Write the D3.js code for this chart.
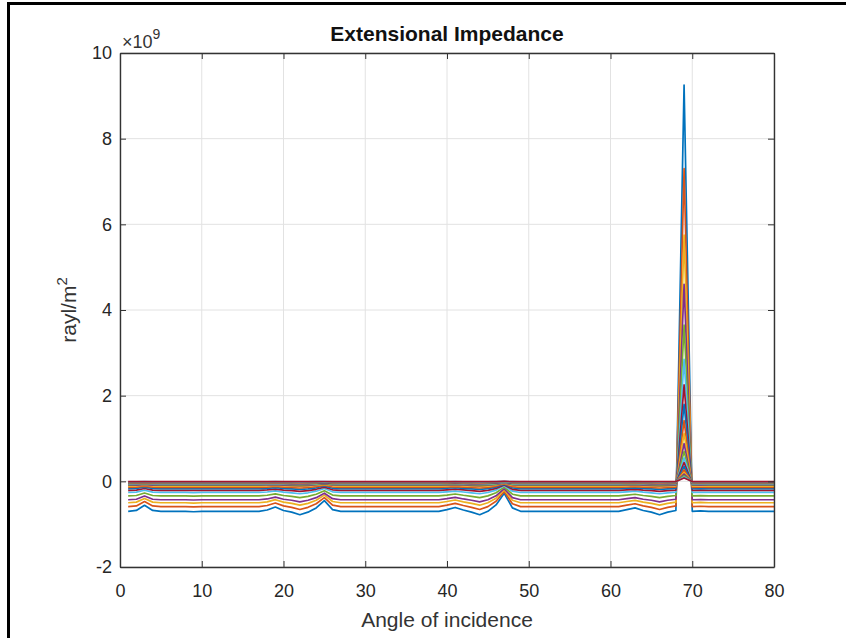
<!DOCTYPE html>
<html>
<head>
<meta charset="utf-8">
<script src="https://cdn.jsdelivr.net/npm/d3@7"></script>
<style>
	body { margin: 0; background: #fff; }
	svg { display: block; }
	text { font-family: 'Liberation Sans', Arial, sans-serif; fill: #262626; }
</style>
</head>
<body>
<div id="chart"></div>
<script>
// angle of incidence (deg)
var angles = [ 1, 2, 3, 4, 5, 6, 7, 8, 9, 10, 11, 12, 13, 14, 15, 16, 17, 18, 19, 20,
	21, 22, 23, 24, 25, 26, 27, 28, 29, 30, 31, 32, 33, 34, 35, 36, 37, 38, 39, 40,
	41, 42, 43, 44, 45, 46, 47, 48, 49, 50, 51, 52, 53, 54, 55, 56, 57, 58, 59, 60,
	61, 62, 63, 64, 65, 66, 67, 68, 69, 70, 71, 72, 73, 74, 75, 76, 77, 78, 79, 80 ];

// lowest (blue) curve, x 1e9 rayl/m^2
var firstCurve = [ -0.70, -0.68, -0.56, -0.68, -0.70, -0.70, -0.70, -0.70, -0.71, -0.70,
	-0.70, -0.70, -0.70, -0.70, -0.70, -0.70, -0.70, -0.67, -0.60, -0.68,
	-0.72, -0.78, -0.72, -0.62, -0.45, -0.66, -0.70, -0.70, -0.70, -0.70,
	-0.70, -0.70, -0.70, -0.70, -0.70, -0.70, -0.70, -0.70, -0.70, -0.66,
	-0.61, -0.67, -0.72, -0.78, -0.70, -0.55, -0.28, -0.62, -0.70, -0.70,
	-0.70, -0.70, -0.70, -0.70, -0.70, -0.70, -0.70, -0.70, -0.70, -0.70,
	-0.70, -0.66, -0.62, -0.68, -0.72, -0.78, -0.72, -0.68, 9.25, -0.70,
	-0.69, -0.70, -0.70, -0.70, -0.70, -0.70, -0.70, -0.70, -0.70, -0.70 ];

// each curve: height of the spike at 69 deg and its flat level elsewhere
var peakLevels = [ 9.25, 7.3, 5.75, 4.6, 3.65, 2.85, 2.25, 1.8, 1.42, 1.12, 0.88,
	0.7, 0.55, 0.44, 0.35, 0.27, 0.21, 0.17, 0.13, 0.1, 0.08 ];
var floorLevels = [ -0.70, -0.59, -0.50, -0.43, -0.34, -0.26, -0.21, -0.17, -0.14, -0.11, -0.09,
	-0.075, -0.06, -0.05, -0.04, -0.032, -0.025, -0.02, -0.015, -0.01, -0.006 ];

var spikeAngle = 69;
var xTicks = [ 0, 10, 20, 30, 40, 50, 60, 70, 80 ];
var yTicks = [ -2, 0, 2, 4, 6, 8, 10 ];
var colors = [ '#0072BD', '#D95319', '#EDB120', '#7E2F8E', '#77AC30', '#4DBEEE', '#A2142F' ];

var width = 846;
var height = 638;
var margin = { top: 53, right: 72, bottom: 71, left: 120 };

var svg = d3.select('#chart').append('svg').attr('width', width).attr('height', height);

// frame of the screenshot
svg.append('rect').attr('x', 8.5).attr('y', 3.5).attr('width', width).attr('height', height)
	.attr('fill', 'none').attr('stroke', '#000').attr('stroke-width', 3);

var x = d3.scaleLinear().domain([ 0, 80 ]).range([ margin.left, width - margin.right ]);
var y = d3.scaleLinear().domain([ -2, 10 ]).range([ height - margin.bottom, margin.top ]);

var series = peakLevels.map((p, k) =>
	angles.map((a, i) => ({
		a: a,
		v: a === spikeAngle ? p : firstCurve[i] * floorLevels[k] / floorLevels[0]
	}))
);

// grid
var grid = svg.append('g').attr('stroke', '#e2e2e2').attr('stroke-width', 1);
grid.selectAll('line.gx').data(xTicks).enter().append('line')
	.attr('x1', (d) => x(d)).attr('x2', (d) => x(d))
	.attr('y1', y(-2)).attr('y2', y(10));
grid.selectAll('line.gy').data(yTicks).enter().append('line')
	.attr('y1', (d) => y(d)).attr('y2', (d) => y(d))
	.attr('x1', x(0)).attr('x2', x(80));

svg.append('clipPath').attr('id', 'clip').append('rect')
	.attr('x', x(0)).attr('y', y(10)).attr('width', x(80) - x(0)).attr('height', y(-2) - y(10));

var line = d3.line().x((d) => x(d.a)).y((d) => y(d.v));

svg.append('g').attr('clip-path', 'url(#clip)')
	.selectAll('path').data(series).enter().append('path')
	.attr('d', line)
	.attr('fill', 'none')
	.attr('stroke', (d, k) => colors[k % colors.length])
	.attr('stroke-width', 1.7)
	.attr('stroke-linejoin', 'round');

// axes, ticks inside on all four sides
var tickLen = 6;
var axisStyle = (g) => g.call((g) => g.select('.domain').attr('stroke', '#333').attr('stroke-width', 1.4))
	.call((g) => g.selectAll('.tick line').attr('stroke', '#333'))
	.call((g) => g.selectAll('.tick text').style('font-size', '18px').attr('fill', '#333'));

svg.append('g').attr('transform', `translate(0,${y(-2)})`)
	.call(d3.axisBottom(x).tickValues(xTicks).tickSizeInner(-tickLen).tickSizeOuter(0).tickPadding(17).tickFormat(d3.format('d')))
	.call(axisStyle);
svg.append('g').attr('transform', `translate(0,${y(10)})`)
	.call(d3.axisTop(x).tickValues(xTicks).tickSizeInner(-tickLen).tickSizeOuter(0).tickFormat(''))
	.call(axisStyle);
svg.append('g').attr('transform', `translate(${x(0)},0)`)
	.call(d3.axisLeft(y).tickValues(yTicks).tickSizeInner(-tickLen).tickSizeOuter(0).tickPadding(8).tickFormat((d) => String(d)))
	.call(axisStyle);
svg.append('g').attr('transform', `translate(${x(80)},0)`)
	.call(d3.axisRight(y).tickValues(yTicks).tickSizeInner(-tickLen).tickSizeOuter(0).tickFormat(''))
	.call(axisStyle);

// exponent
var expo = svg.append('text').attr('x', x(0) + 2).attr('y', 48).style('font-size', '18px').style('fill', '#333');
expo.append('tspan').text('\u00d710');
expo.append('tspan').attr('dy', -9).style('font-size', '14px').text('9');

// title
svg.append('text').attr('x', (x(0) + x(80)) / 2).attr('y', 41)
	.attr('text-anchor', 'middle').style('font-size', '21px').style('font-weight', 'bold')
	.style('fill', '#111').text('Extensional Impedance');

// axis labels
svg.append('text').attr('x', (x(0) + x(80)) / 2).attr('y', 627)
	.attr('text-anchor', 'middle').style('font-size', '21px').style('fill', '#333').text('Angle of incidence');

var yl = svg.append('text').attr('transform', `translate(76,${(y(-2) + y(10)) / 2}) rotate(-90)`)
	.attr('text-anchor', 'middle').style('font-size', '21px').style('fill', '#333');
yl.append('tspan').text('rayl/m');
yl.append('tspan').attr('dy', -9).style('font-size', '15px').text('2');
</script>
</body>
</html>
